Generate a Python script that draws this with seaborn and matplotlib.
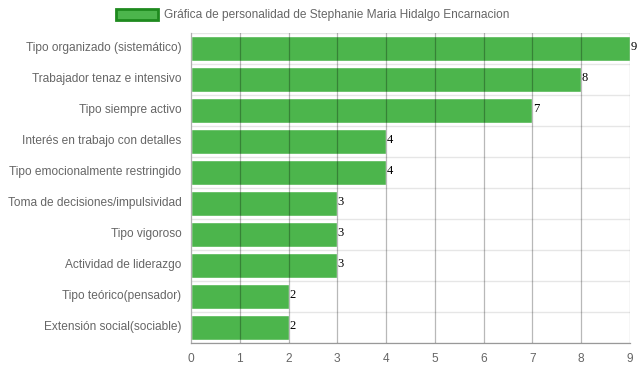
import pandas as pd
import numpy as np
import matplotlib
matplotlib.use("Agg")
import matplotlib.pyplot as plt
import matplotlib.transforms as mtransforms
import seaborn as sns
from matplotlib.patches import Patch

# ---------- DATA ----------
categories = [
    "Tipo organizado (sistemático)",
    "Trabajador tenaz e intensivo",
    "Tipo siempre activo",
    "Interés en trabajo con detalles",
    "Tipo emocionalmente restringido",
    "Toma de decisiones/impulsividad",
    "Tipo vigoroso",
    "Actividad de liderazgo",
    "Tipo teórico(pensador)",
    "Extensión social(sociable)",
]
scores = [9, 8, 7, 4, 4, 3, 3, 3, 2, 2]
series_name = "Gráfica de personalidad de Stephanie Maria Hidalgo Encarnacion"

df = pd.DataFrame({"Categoria": categories, "Puntaje": scores})

# ---------- STYLE ----------
sns.set_style("white")
plt.rcParams['font.family'] = ['Liberation Sans', 'DejaVu Sans']

bar_color = "#4cb54c"
edge_color = "#1e8a1e"
text_gray = "#666666"
fs = 8.6

fig = plt.figure(figsize=(6.37, 3.71), dpi=100)
ax = fig.add_axes([0.2998, 0.0755, 0.6892, 0.8355])

sns.barplot(data=df, x="Puntaje", y="Categoria", orient="h",
            color=bar_color, saturation=1, width=0.8, ax=ax, zorder=2)

ax.set_xlim(0, 9)
ax.set_ylim(len(categories) - 0.5, -0.5)
ax.set_xticks(range(0, 10))
ax.set_xlabel("")
ax.set_ylabel("")

# vertical grid drawn over bars
for v in range(1, 10):
    ax.axvline(v, color="#000000", alpha=0.28, lw=0.9, zorder=3)
# horizontal band lines
bounds = np.arange(-0.5, len(categories), 1.0)
for b in bounds:
    ax.axhline(b, color="#e6e6e6", lw=1, zorder=1)
ax.set_yticks(bounds, minor=True)
ax.tick_params(axis="y", which="minor", length=9, width=1, color="#e6e6e6")

ax.set_yticks(range(len(categories)))
ax.set_yticklabels(categories)
ax.tick_params(axis="y", length=0, pad=7, labelsize=fs, labelcolor=text_gray)
ax.tick_params(axis="x", length=6, width=0.9, color="#b0b0b0", pad=1.5,
               labelsize=fs, labelcolor=text_gray)

# nudge category labels up a little
shift = mtransforms.ScaledTranslation(0, 2 / 100, fig.dpi_scale_trans)
for lab in ax.get_yticklabels():
    lab.set_transform(lab.get_transform() + shift)

for s in ["top", "right"]:
    ax.spines[s].set_visible(False)
ax.spines["left"].set_color("#b0b0b0")
ax.spines["bottom"].set_color("#999999")
ax.spines["left"].set_linewidth(0.9)
ax.spines["bottom"].set_linewidth(0.9)

# value labels at bar ends
for i, v in enumerate(scores):
    ax.text(v + 0.01, i - 0.06, str(v), va="center", ha="left",
            fontsize=9, color="black", family=["Liberation Serif"], zorder=4)

# legend on top
handle = Patch(facecolor=bar_color, edgecolor=edge_color, linewidth=2)
fig.legend([handle], [series_name], loc="upper center",
           bbox_to_anchor=(0.491, 1.005), frameon=False, fontsize=fs,
           handlelength=3.5, handleheight=1.0, handletextpad=0.5,
           labelcolor=text_gray)

fig.savefig("out.png", dpi=100)
